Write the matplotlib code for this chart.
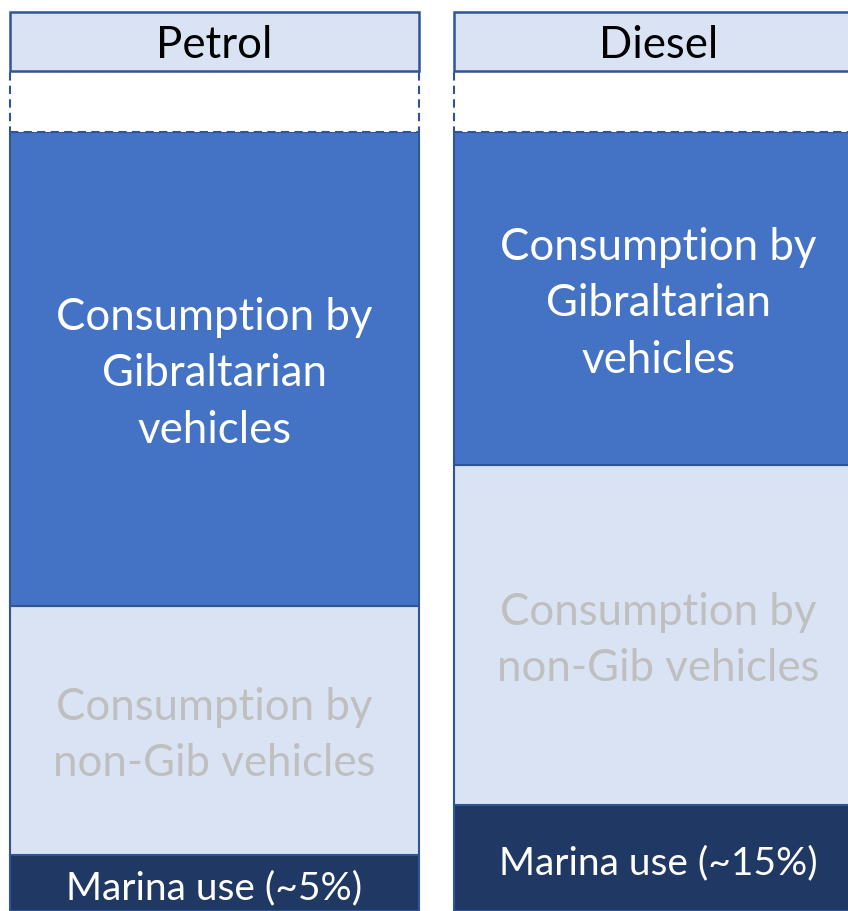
import matplotlib.pyplot as plt

plt.rcParams['font.family'] = ['Lato', 'DejaVu Sans']

# fuel types and visible share of each column (percent of column height)
fuels = ['Petrol', 'Diesel']
marina_share = [7.2, 13.6]
non_gib_share = [32.0, 43.6]
gib_share = [60.8, 42.8]

marina_labels = ['Marina use (~5%)', 'Marina use (~15%)']
non_gib_label = 'Consumption by\nnon-Gib vehicles'
gib_label = 'Consumption by\nGibraltarian\nvehicles'

# colours
BLUE = '#4472C4'
LIGHT = '#DAE3F3'
DARK = '#203864'
EDGE = '#2F5597'
GREY_TXT = '#BFBFBF'

x_pos = [214.5, 658.5]
bar_w = 409
gap_h = 7.83      # empty dashed box above the stack
head_h = 7.57     # header box with fuel name

fig = plt.figure(figsize=(8.48, 9.12), dpi=100)
ax = fig.add_axes([0, 0, 1, 1])
ax.set_xlim(0, 848)
ax.set_ylim(0, 100 + gap_h + head_h + 1.67)
ax.axis('off')

bottom = [0, 0]
segments = [
    (marina_share, DARK, marina_labels, 'white', 28),
    (non_gib_share, LIGHT, [non_gib_label] * 2, GREY_TXT, 31.5),
    (gib_share, BLUE, [gib_label] * 2, 'white', 31.5),
]
for vals, col, labels, tcol, fs in segments:
    ax.bar(x_pos, vals, bar_w, bottom=bottom, color=col,
           edgecolor=EDGE, linewidth=1.5, align='center')
    for i in range(2):
        ax.annotate(labels[i], (x_pos[i], bottom[i] + vals[i] / 2),
                    xytext=(0, -3), textcoords='offset points',
                    ha='center', va='center', color=tcol, fontsize=fs,
                    linespacing=1.47)
    bottom = [b + v for b, v in zip(bottom, vals)]

# dashed empty boxes
ax.bar(x_pos, [gap_h] * 2, bar_w, bottom=bottom, color='white',
       edgecolor=EDGE, linewidth=1.5, linestyle=(0, (4, 2.5)))
bottom = [b + gap_h for b in bottom]

# header boxes
ax.bar(x_pos, [head_h] * 2, bar_w, bottom=bottom, color=LIGHT,
       edgecolor=EDGE, linewidth=1.8)
for i, name in enumerate(fuels):
    ax.annotate(name, (x_pos[i], bottom[i] + head_h / 2), xytext=(0, -2),
                textcoords='offset points', ha='center', va='center',
                color='black', fontsize=31.5)

fig.savefig('out.png', dpi=100)
